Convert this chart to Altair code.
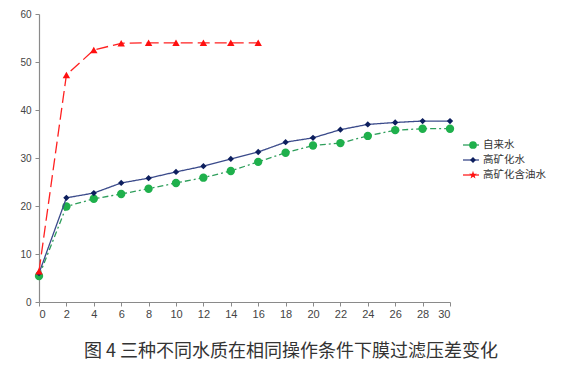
import altair as alt
import pandas as pd

# ---- data ----
t_tap = [0, 2, 4, 6, 8, 10, 12, 14, 16, 18, 20, 22, 24, 26, 28, 30]
p_tap = [5.4, 19.9, 21.5, 22.5, 23.6, 24.8, 25.9, 27.3, 29.2, 31.1, 32.6, 33.1, 34.6, 35.8, 36.1, 36.1]

t_high = [0, 2, 4, 6, 8, 10, 12, 14, 16, 18, 20, 22, 24, 26, 28, 30]
p_high = [6.0, 21.7, 22.7, 24.8, 25.8, 27.1, 28.3, 29.8, 31.25, 33.3, 34.2, 35.9, 37.0, 37.4, 37.7, 37.7]

t_oil = [0, 2, 4, 6, 8, 10, 12, 14, 16]
p_oil = [6.4, 47.3, 52.5, 53.9, 54.0, 54.0, 54.0, 54.0, 54.0]

names = ["自来水", "高矿化水", "高矿化含油水"]
x_ticks = list(range(0, 31, 2))
y_ticks = list(range(0, 61, 10))
caption = "图 4  三种不同水质在相同操作条件下膜过滤压差变化"

# ---- styles ----
colors_line = ["#2e9e5b", "#3a4a8a", "#ff2020"]
colors_pt = ["#1fb04c", "#0d1f5e", "#ff1010"]
dashes = [[6, 3, 2, 3], [1, 0], [12, 5]]
shapes = ["circle", "diamond", "triangle-up"]
sizes = [70, 40, 55]
legend_shapes = ["circle", "diamond", "M0,-1L0.235,-0.324L0.951,-0.309L0.38,0.124L0.588,0.809L0,0.4L-0.588,0.809L-0.38,0.124L-0.951,-0.309L-0.235,-0.324Z"]
legend_sizes = [60, 35, 70]

W, H = 411, 288

xs = alt.X("t:Q", scale=alt.Scale(domain=[0, 30], nice=False),
           axis=alt.Axis(values=x_ticks, title=None, grid=False, labelFontSize=11,
                         tickSize=4, labelPadding=2))
ys = alt.Y("p:Q", scale=alt.Scale(domain=[0, 60], nice=False),
           axis=alt.Axis(values=y_ticks, title=None, grid=False, labelFontSize=10,
                         tickSize=4, labelPadding=4))

layers = []
for i, (tt, pp) in enumerate([(t_tap, p_tap), (t_high, p_high), (t_oil, p_oil)]):
    df = pd.DataFrame({"t": tt, "p": pp})
    base = alt.Chart(df)
    layers.append(base.mark_line(color=colors_line[i], strokeDash=dashes[i],
                                 strokeWidth=1.3).encode(x=xs, y=ys))
    layers.append(base.mark_point(shape=shapes[i], size=sizes[i], filled=True,
                                  color=colors_pt[i], opacity=1).encode(x=xs, y=ys))

# ---- manual legend ----
leg_y = [131, 146, 161]
for i, nm in enumerate(names):
    ldf = pd.DataFrame({"name": [nm]})
    lb = alt.Chart(ldf)
    layers.append(lb.mark_rule(color=colors_line[i], strokeWidth=1.3).encode(
        x=alt.value(424), x2=alt.value(440), y=alt.value(leg_y[i])))
    layers.append(lb.mark_point(shape=legend_shapes[i], size=legend_sizes[i], filled=True,
                                color=colors_pt[i], opacity=1).encode(
        x=alt.value(434), y=alt.value(leg_y[i])))
    layers.append(lb.mark_text(align="left", baseline="middle", fontSize=10.5,
                               font="Noto Sans CJK SC", color="#333333").encode(
        x=alt.value(444), y=alt.value(leg_y[i]), text="name:N"))

# ---- caption ----
cdf = pd.DataFrame({"c": [caption]})
layers.append(alt.Chart(cdf).mark_text(align="center", baseline="middle", fontSize=18,
                                       font="Noto Sans CJK SC", color="#333333").encode(
    x=alt.value(252), y=alt.value(338), text="c:N"))

chart = alt.layer(*layers).properties(
    width=W, height=H,
    autosize=alt.AutoSizeParams(type="none"),
    padding={"left": 31, "top": 6, "right": 117, "bottom": 60},
).configure_view(stroke=None).configure_axis(
    domainColor="#8a8a8a", tickColor="#8a8a8a", labelColor="#444444",
    labelFont="Liberation Sans", domainWidth=1.2,
)

chart.save("out.html", embed_options={"renderer": "svg", "actions": False})
